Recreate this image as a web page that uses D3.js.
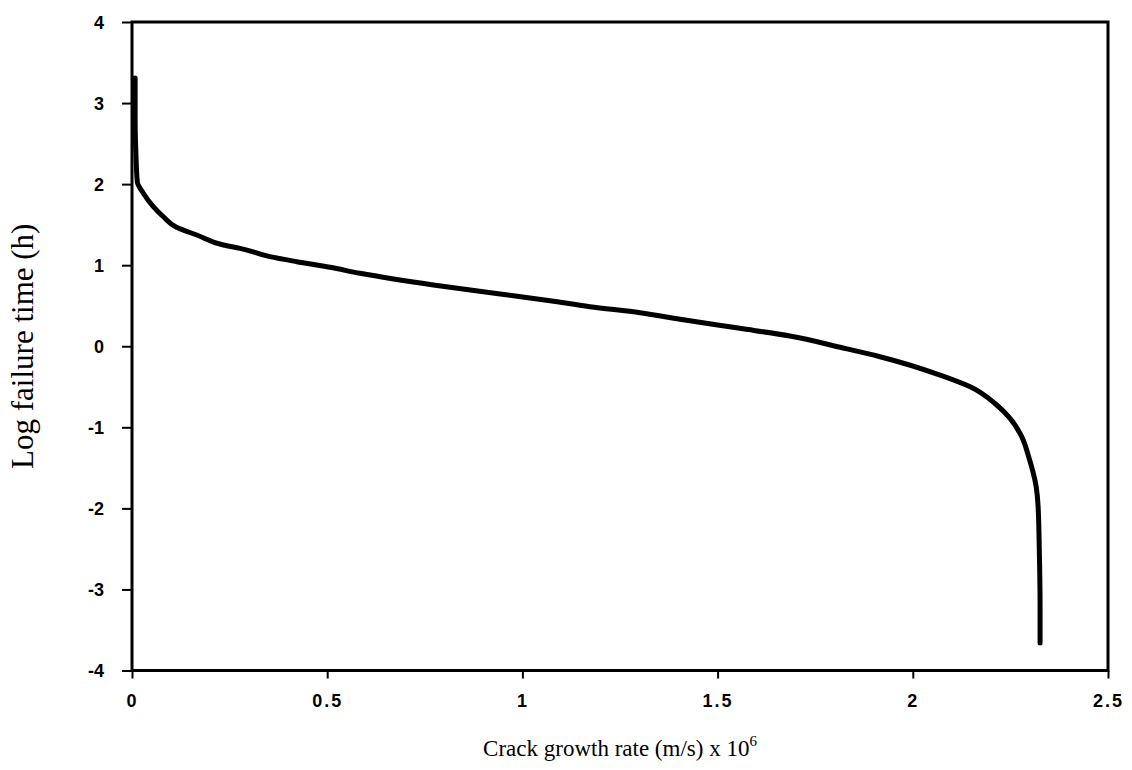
<!DOCTYPE html>
<html><head><meta charset="utf-8">
<script src="https://cdn.jsdelivr.net/npm/d3@7"></script>
<style>body{margin:0;background:#fff}</style>
</head><body>
<svg id="c" width="1132" height="770"></svg>
<script>
const rateX = [0.008,0.008,0.010,0.0136,0.029,0.0546,0.080,0.114,0.166,0.234,0.277,0.353,0.422,0.507,0.584,0.772,0.943,1.071,1.173,1.301,1.404,1.557,1.685,1.814,1.916,2.070,2.147,2.215,2.249,2.279,2.296,2.316,2.321,2.324,2.326,2.326];
const logT  = [3.31,2.80,2.38,2.03,1.887,1.722,1.598,1.467,1.372,1.249,1.208,1.105,1.043,0.974,0.900,0.756,0.645,0.562,0.488,0.414,0.332,0.221,0.126,-0.013,-0.129,-0.355,-0.499,-0.725,-0.889,-1.116,-1.35,-1.733,-1.98,-2.51,-3.2,-3.66];
const xTicks = [0,0.5,1,1.5,2,2.5];
const xTickLabels = ["0","0.5","1","1.5","2","2.5"];
const yTicks = [-4,-3,-2,-1,0,1,2,3,4];
const yTickLabels = ["-4","-3","-2","-1","0","1","2","3","4"];

const svg = d3.select("#c");
const L=132,R=1108,T=22,B=670.5;
const x = d3.scaleLinear().domain([0,2.5]).range([L,R]);
const y = d3.scaleLinear().domain([-4,4]).range([B,T]);

svg.append("rect").attr("x",L).attr("y",T).attr("width",R-L).attr("height",B-T)
  .attr("fill","none").attr("stroke","#000").attr("stroke-width",3);

const xa = svg.append("g").attr("transform",`translate(0,${B})`)
  .call(d3.axisBottom(x).tickValues(xTicks).tickFormat((d,i)=>xTickLabels[i]).tickSize(8).tickPadding(16));
const ya = svg.append("g").attr("transform",`translate(${L},0)`)
  .call(d3.axisLeft(y).tickValues(yTicks).tickFormat((d,i)=>yTickLabels[i]).tickSize(10).tickPadding(18));
[xa,ya].forEach(a=>{
  a.select(".domain").remove();
  a.selectAll("line").attr("stroke","#000").attr("stroke-width",2);
  a.selectAll("text").attr("font-family","Liberation Sans, Arial, sans-serif")
    .attr("font-weight","bold").attr("font-size",18).attr("fill","#000");
});
ya.selectAll("text").attr("dy","0.35em");
xa.selectAll("text").attr("letter-spacing",2);

const pts = rateX.map((v,i)=>[v,logT[i]]);
svg.append("path").datum(pts)
  .attr("d",d3.line().x(d=>x(d[0])).y(d=>y(d[1])).curve(d3.curveMonotoneY))
  .attr("fill","none").attr("stroke","#000").attr("stroke-width",5)
  .attr("stroke-linecap","round").attr("stroke-linejoin","round");

svg.append("text").attr("x",(L+R)/2).attr("y",756).attr("text-anchor","middle")
  .attr("font-family","Liberation Serif, Times New Roman, serif").attr("font-size",23)
  .html('Crack growth rate (m/s) x 10<tspan dy="-10" font-size="15">6</tspan>');
svg.append("text").attr("transform",`translate(33,${(T+B)/2}) rotate(-90)`)
  .attr("text-anchor","middle")
  .attr("font-family","Liberation Serif, Times New Roman, serif").attr("font-size",31)
  .text("Log failure time (h)");
</script>
</body></html>
